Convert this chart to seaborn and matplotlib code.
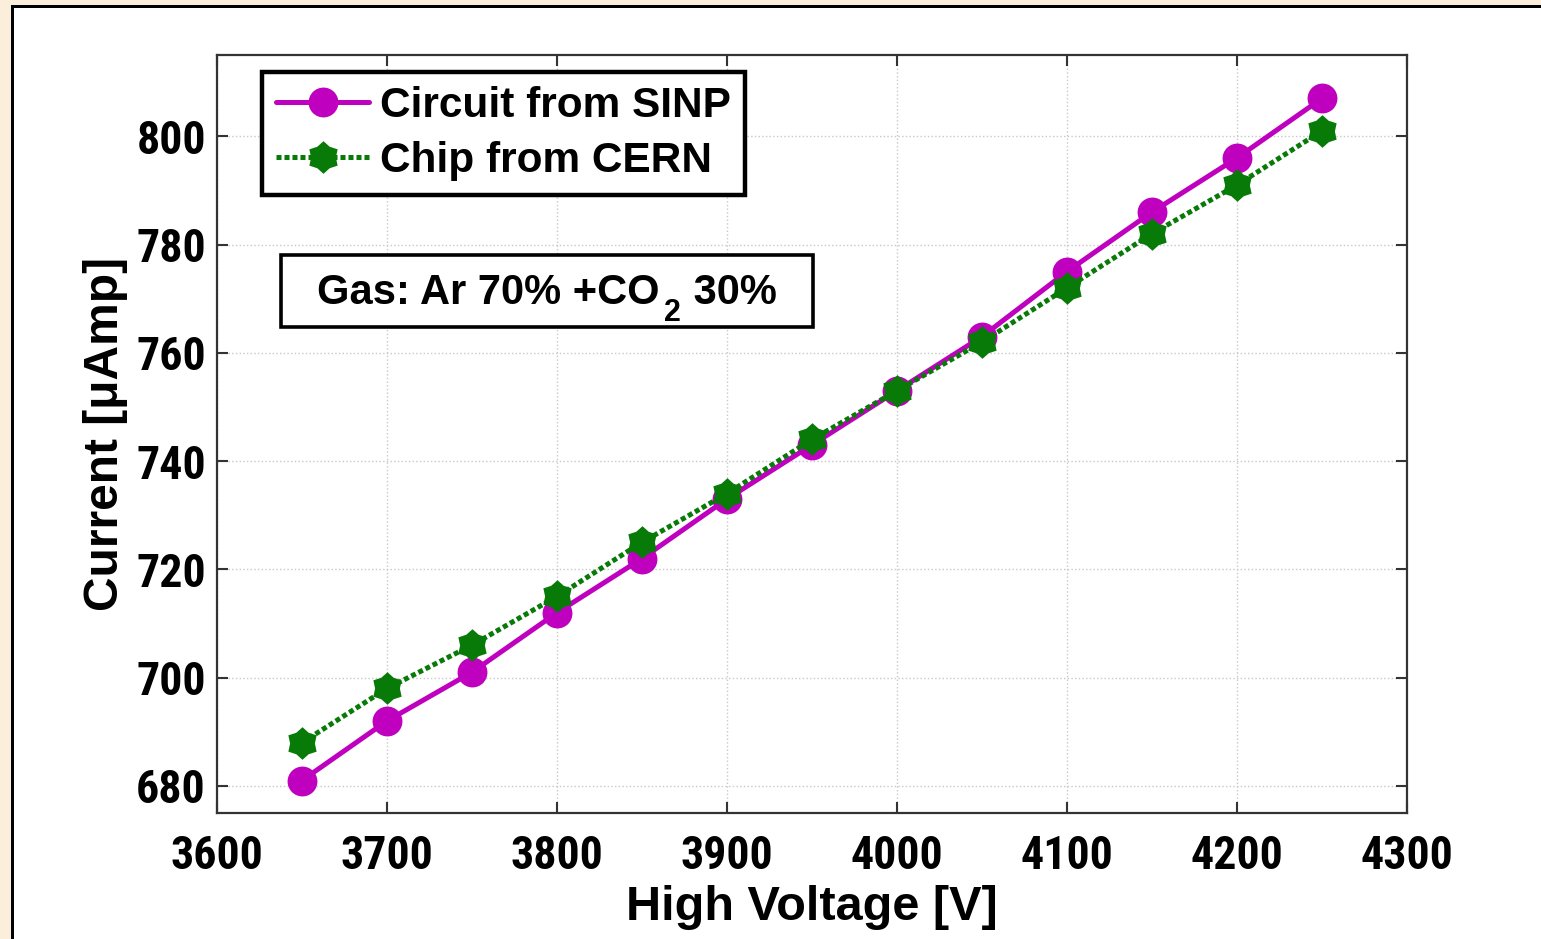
import numpy as np
import pandas as pd
import matplotlib
matplotlib.use("Agg")
import matplotlib.pyplot as plt
from matplotlib.path import Path
from matplotlib.patches import Rectangle
import seaborn as sns

# ---- data ----
voltage = [3650, 3700, 3750, 3800, 3850, 3900, 3950, 4000, 4050, 4100, 4150, 4200, 4250]
sinp_current = [681, 692, 701, 712, 722, 733, 743, 753, 763, 775, 786, 796, 807]
cern_current = [688, 698, 706, 715, 725, 734, 744, 753, 762, 772, 782, 791, 801]
series_names = ["Circuit from SINP", "Chip from CERN"]
x_ticks = [3600, 3700, 3800, 3900, 4000, 4100, 4200, 4300]
y_ticks = [680, 700, 720, 740, 760, 780, 800]
x_label = "High Voltage [V]"
y_label = "Current [\u03bcAmp]"
annotation_parts = ["Gas: Ar 70% +CO", "2", " 30%"]

sns.set_style("ticks")
plt.rcParams["font.family"] = ["Liberation Sans", "DejaVu Sans"]
plt.rcParams["font.weight"] = "bold"
plt.rcParams["text.color"] = "black"
plt.rcParams["axes.labelcolor"] = "black"
plt.rcParams["xtick.color"] = "black"
plt.rcParams["ytick.color"] = "black"

fig = plt.figure(figsize=(15.41, 9.39), dpi=100, facecolor="white")
ax = fig.add_axes([0.1408, 0.1342, 0.7723, 0.8072])

# hexagram marker
ang = np.pi / 2 + np.arange(12) * np.pi / 6
rad = np.where(np.arange(12) % 2 == 0, 1.0, 0.76)
verts = np.column_stack([rad * np.cos(ang), rad * np.sin(ang)])
verts = np.vstack([verts, verts[:1]])
codes = [Path.MOVETO] + [Path.LINETO] * 11 + [Path.CLOSEPOLY]
star = Path(verts, codes)

df = pd.DataFrame({"V": voltage, "SINP": sinp_current, "CERN": cern_current})

magenta = "#BF00BF"
green = "#087A08"

sns.lineplot(data=df, x="V", y="SINP", ax=ax, color=magenta, lw=3.6,
             marker="o", markersize=21.5, markeredgewidth=0,
             label=series_names[0])
sns.lineplot(data=df, x="V", y="CERN", ax=ax, color=green, lw=3.6,
             linestyle=(0, (1.0, 0.6)), dash_capstyle="butt",
             marker=star, markersize=23.5, markeredgewidth=0,
             label=series_names[1])

ax.set_xlim(3600, 4300)
ax.set_ylim(675, 815)
ax.set_xticks(x_ticks)
ax.set_yticks(y_ticks)
ax.grid(True, color="#c8c8c8", linestyle=":", linewidth=1.0)
for s in ax.spines.values():
    s.set_color("#333333")
    s.set_linewidth(1.6)
    s.set_visible(True)
ax.tick_params(direction="in", length=8, width=1.5, top=True, right=True,
               color="#333333", labelcolor="black")
ax.tick_params(axis="y", pad=8)
ax.tick_params(axis="x", pad=15)
ax.set_facecolor("white")

tick_font = ["Liberation Sans Narrow", "Roboto Condensed", "DejaVu Sans"]
for lab in ax.get_xticklabels() + ax.get_yticklabels():
    lab.set_fontfamily(tick_font)
    lab.set_fontstretch("condensed")
    lab.set_fontsize(33)
    lab.set_fontweight("bold")

ax.set_xlabel(x_label, fontsize=35, fontweight="bold", labelpad=5)
ax.set_ylabel(y_label, fontsize=34.5, fontweight="bold", labelpad=6)

leg = ax.legend(loc="upper left", bbox_to_anchor=(0.0378, 0.9776),
                borderaxespad=0, fontsize=30.5, frameon=True, fancybox=False,
                framealpha=1, edgecolor="black", handlelength=2.2,
                handletextpad=0.25, borderpad=0.33, labelspacing=0.36)
leg.get_frame().set_linewidth(3.2)
for t in leg.get_texts():
    t.set_fontweight("bold")

# annotation box
box_x0, box_x1 = (281 - 217) / 1190, (813 - 217) / 1190
box_y0, box_y1 = (813 - 327) / 758, (813 - 255) / 758
ax.add_patch(Rectangle((box_x0, box_y0), box_x1 - box_x0, box_y1 - box_y0,
                       transform=ax.transAxes, facecolor="white",
                       edgecolor="black", linewidth=2.6, zorder=5))
t1 = ax.text((317 - 217) / 1190, (813 - 304) / 758, annotation_parts[0],
             transform=ax.transAxes, ha="left", va="baseline",
             fontsize=30, fontweight="bold", zorder=6)
t2 = ax.annotate(annotation_parts[1], xy=(1, 0), xycoords=t1,
                 xytext=(3, -11), textcoords="offset points",
                 ha="left", va="bottom", fontsize=22, fontweight="bold",
                 zorder=6)
t3 = ax.annotate(annotation_parts[2], xy=(1, 0), xycoords=(t2, t1),
                 xytext=(1, 0), textcoords="offset points",
                 ha="left", va="bottom", fontsize=30, fontweight="bold",
                 zorder=6)

# outer frame remnants (beige margin and black border on top/left)
W, H = 1541, 939
beige = "#FBEFDB"
fig.patches.append(Rectangle((0, 1 - 5 / H), 1, 5 / H, transform=fig.transFigure,
                             facecolor=beige, edgecolor="none", zorder=0))
fig.patches.append(Rectangle((0, 0), 11 / W, 1, transform=fig.transFigure,
                             facecolor=beige, edgecolor="none", zorder=0))
fig.patches.append(Rectangle((11 / W, 1 - 8 / H), 1, 3 / H, transform=fig.transFigure,
                             facecolor="black", edgecolor="none", zorder=1))
fig.patches.append(Rectangle((11 / W, 0), 3 / W, 1 - 5 / H, transform=fig.transFigure,
                             facecolor="black", edgecolor="none", zorder=1))

fig.savefig("out.png", dpi=100, facecolor="white")
